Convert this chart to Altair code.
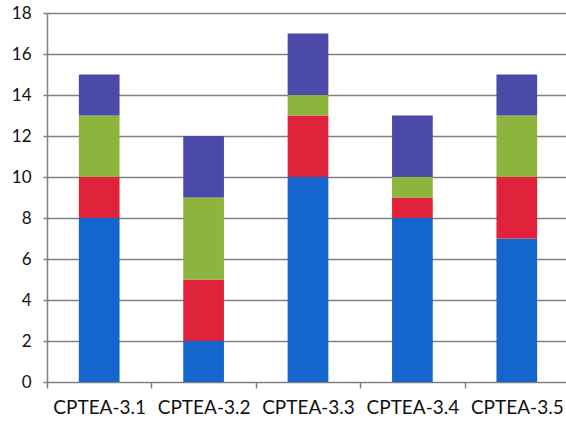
import altair as alt
import pandas as pd

categories = ["CPTEA-3.1", "CPTEA-3.2", "CPTEA-3.3", "CPTEA-3.4", "CPTEA-3.5"]
series = ["Série 1", "Série 2", "Série 3", "Série 4"]
s1 = [8, 2, 10, 8, 7]
s2 = [2, 3, 3, 1, 3]
s3 = [3, 4, 1, 1, 3]
s4 = [2, 3, 3, 3, 2]
colors = ["#1466cc", "#e0233a", "#8db43c", "#4b4aa8"]

rows = []
for si, (name, vals) in enumerate(zip(series, [s1, s2, s3, s4])):
    for c, v in zip(categories, vals):
        rows.append({"cat": c, "serie": name, "val": v, "ord": si})
df = pd.DataFrame(rows)

FONT = "Lato"

chart = alt.Chart(df).mark_bar(width=alt.RelativeBandSize(0.39)).encode(
    x=alt.X("cat:N", sort=categories, title=None,
            scale=alt.Scale(range=[0, 522], paddingInner=0, paddingOuter=0),
            axis=alt.Axis(labelAngle=0, labelFont=FONT, labelFontSize=19, labelColor="#111",
                          domain=False, ticks=True, tickBand="extent", tickColor="#808080",
                          tickWidth=1.5, tickSize=6, labelPadding=10, grid=False)),
    y=alt.Y("val:Q", stack="zero", title=None,
            scale=alt.Scale(domain=[0, 18], nice=False),
            axis=alt.Axis(values=list(range(0, 19, 2)), labelFont=FONT, labelFontSize=17,
                          labelColor="#111", domain=True, domainColor="#808080", domainWidth=1.5,
                          ticks=True, tickSize=4, tickColor="#808080", tickWidth=1.5,
                          labelPadding=12, grid=True, gridColor="#808080", gridWidth=1.5)),
    color=alt.Color("serie:N", scale=alt.Scale(domain=series, range=colors), legend=None),
    order=alt.Order("ord:Q", sort="ascending"),
).properties(
    width=519, height=369,
    autosize=alt.AutoSizeParams(type="none"),
    padding={"left": 47, "top": 13, "right": 0, "bottom": 44},
).configure_view(stroke=None).configure(background="white")

chart.save("out.html", embed_options={"renderer": "svg", "actions": False})
